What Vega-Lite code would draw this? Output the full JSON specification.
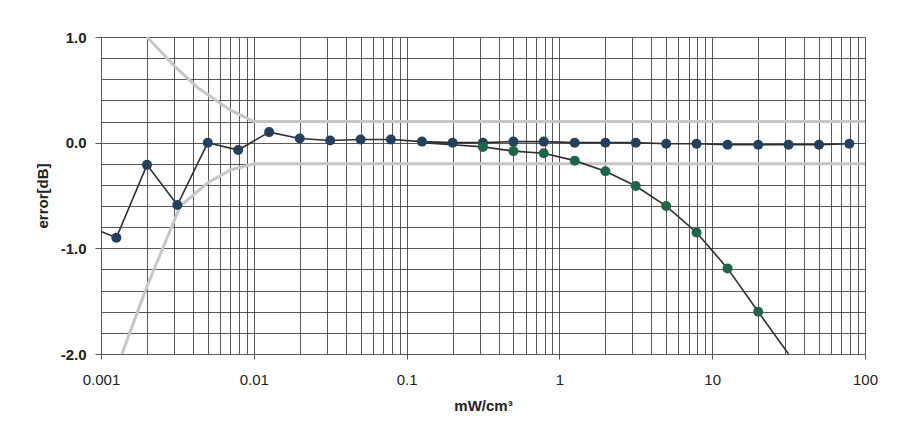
{
  "$schema": "https://vega.github.io/schema/vega-lite/v6.json",
  "autosize": "none",
  "width": 764,
  "height": 317,
  "padding": {"left": 101, "top": 37, "right": 32, "bottom": 94},
  "background": "white",
  "config": {
    "view": {"stroke": null},
    "font": "Liberation Sans",
    "axis": {"gridColor": "#3c3c3c", "gridOpacity": 0.85, "gridWidth": 1, "domain": false, "tickColor": "#555", "labelColor": "#222", "titleColor": "#222"}
  },
  "datasets": {
    "pts": [
      {"series": "A", "x": 0.001, "y": -0.84},
      {"series": "A", "x": 0.00126, "y": -0.9},
      {"series": "A", "x": 0.002, "y": -0.21},
      {"series": "A", "x": 0.00316, "y": -0.59},
      {"series": "A", "x": 0.005, "y": 0.0},
      {"series": "A", "x": 0.0079, "y": -0.07},
      {"series": "A", "x": 0.0126, "y": 0.1},
      {"series": "A", "x": 0.02, "y": 0.04},
      {"series": "A", "x": 0.0316, "y": 0.02},
      {"series": "A", "x": 0.05, "y": 0.03},
      {"series": "A", "x": 0.079, "y": 0.03},
      {"series": "A", "x": 0.126, "y": 0.01},
      {"series": "A", "x": 0.2, "y": 0.0},
      {"series": "A", "x": 0.316, "y": 0.0},
      {"series": "A", "x": 0.5, "y": 0.01},
      {"series": "A", "x": 0.79, "y": 0.01},
      {"series": "A", "x": 1.26, "y": 0.0},
      {"series": "A", "x": 2.0, "y": 0.0},
      {"series": "A", "x": 3.16, "y": 0.0},
      {"series": "A", "x": 5.0, "y": -0.01},
      {"series": "A", "x": 7.9, "y": -0.01},
      {"series": "A", "x": 12.6, "y": -0.02},
      {"series": "A", "x": 20.0, "y": -0.02},
      {"series": "A", "x": 31.6, "y": -0.02},
      {"series": "A", "x": 50.0, "y": -0.02},
      {"series": "A", "x": 79.0, "y": -0.01},
      {"series": "B", "x": 0.316, "y": -0.04},
      {"series": "B", "x": 0.5, "y": -0.08},
      {"series": "B", "x": 0.79, "y": -0.1},
      {"series": "B", "x": 1.26, "y": -0.17},
      {"series": "B", "x": 2.0, "y": -0.27},
      {"series": "B", "x": 3.16, "y": -0.41},
      {"series": "B", "x": 5.0, "y": -0.6},
      {"series": "B", "x": 7.9, "y": -0.85},
      {"series": "B", "x": 12.6, "y": -1.19},
      {"series": "B", "x": 20.0, "y": -1.6}
    ],
    "fit": [
      {"series": "fit", "x": 0.126, "y": 0.0},
      {"series": "fit", "x": 0.2, "y": -0.02},
      {"series": "fit", "x": 0.316, "y": -0.04},
      {"series": "fit", "x": 0.5, "y": -0.08},
      {"series": "fit", "x": 0.79, "y": -0.1},
      {"series": "fit", "x": 1.26, "y": -0.17},
      {"series": "fit", "x": 2.0, "y": -0.27},
      {"series": "fit", "x": 3.16, "y": -0.41},
      {"series": "fit", "x": 5.0, "y": -0.6},
      {"series": "fit", "x": 7.9, "y": -0.85},
      {"series": "fit", "x": 12.6, "y": -1.19},
      {"series": "fit", "x": 20.0, "y": -1.6},
      {"series": "fit", "x": 31.6, "y": -2.0}
    ],
    "limits": [
      {"series": "upper", "x": 0.002, "y": 1.0},
      {"series": "upper", "x": 0.00305, "y": 0.72},
      {"series": "upper", "x": 0.0043, "y": 0.52},
      {"series": "upper", "x": 0.007, "y": 0.31},
      {"series": "upper", "x": 0.01, "y": 0.2},
      {"series": "upper", "x": 100, "y": 0.2},
      {"series": "lower", "x": 0.00137, "y": -2.0},
      {"series": "lower", "x": 0.002, "y": -1.36},
      {"series": "lower", "x": 0.0033, "y": -0.6},
      {"series": "lower", "x": 0.005, "y": -0.38},
      {"series": "lower", "x": 0.007, "y": -0.26},
      {"series": "lower", "x": 0.01, "y": -0.2},
      {"series": "lower", "x": 100, "y": -0.2}
    ]
  },
  "encoding": {
    "x": {
      "field": "x", "type": "quantitative",
      "scale": {"type": "log", "domain": [0.001, 100], "nice": false},
      "axis": {
        "title": "mW/cm³", "titleFontSize": 15, "titleFontWeight": "bold", "titlePadding": 11,
        "values": [0.001,0.002,0.003,0.004,0.005,0.006,0.007,0.008,0.009,0.01,0.02,0.03,0.04,0.05,0.06,0.07,0.08,0.09,0.1,0.2,0.3,0.4,0.5,0.6,0.7,0.8,0.9,1,2,3,4,5,6,7,8,9,10,20,30,40,50,60,70,80,90,100],
        "labelExpr": "abs(log(datum.value)/LN10 - round(log(datum.value)/LN10)) < 1e-6 ? format(datum.value, '~g') : ''",
        "labelFontSize": 15, "labelPadding": 13, "tickSize": 5,
        "tickOpacity": {"condition": {"test": "abs(log(datum.value)/LN10 - round(log(datum.value)/LN10)) < 1e-6", "value": 1}, "value": 0},
        "labelOverlap": false, "labelFlush": false
      }
    },
    "y": {
      "field": "y", "type": "quantitative",
      "scale": {"domain": [-2, 1], "nice": false, "zero": false},
      "axis": {
        "title": "error[dB]", "titleFontSize": 15, "titleFontWeight": "bold", "titlePadding": 10,
        "values": [-2, -1.8, -1.6, -1.4, -1.2, -1, -0.8, -0.6, -0.4, -0.2, 0, 0.2, 0.4, 0.6, 0.8, 1],
        "labelExpr": "abs(datum.value - round(datum.value)) < 1e-6 ? replace(format(datum.value, '.1f'), '−', '-') : ''",
        "labelFontSize": 15, "labelFontWeight": "bold", "labelPadding": 9, "tickSize": 6,
        "tickOpacity": {"condition": {"test": "abs(datum.value - round(datum.value)) < 1e-6", "value": 1}, "value": 0},
        "labelOverlap": false
      }
    }
  },
  "layer": [
    {
      "data": {"name": "limits"},
      "mark": {"type": "line", "color": "#c6c6c6", "strokeWidth": 3, "clip": true},
      "encoding": {"detail": {"field": "series"}}
    },
    {
      "data": {"name": "fit"},
      "mark": {"type": "line", "color": "#2e2e2e", "strokeWidth": 1.6, "clip": true},
      "encoding": {}
    },
    {
      "data": {"name": "pts"},
      "transform": [{"filter": "datum.series == 'A'"}],
      "mark": {"type": "line", "color": "#2e2e2e", "strokeWidth": 1.6, "clip": true},
      "encoding": {}
    },
    {
      "data": {"name": "pts"},
      "transform": [{"filter": "datum.x > 0.0011"}],
      "mark": {"type": "point", "filled": true, "opacity": 1, "size": 100, "strokeWidth": 0},
      "encoding": {
        "color": {"field": "series", "type": "nominal", "scale": {"domain": ["A", "B"], "range": ["#23415f", "#1d6648"]}, "legend": null}
      }
    }
  ]
}
